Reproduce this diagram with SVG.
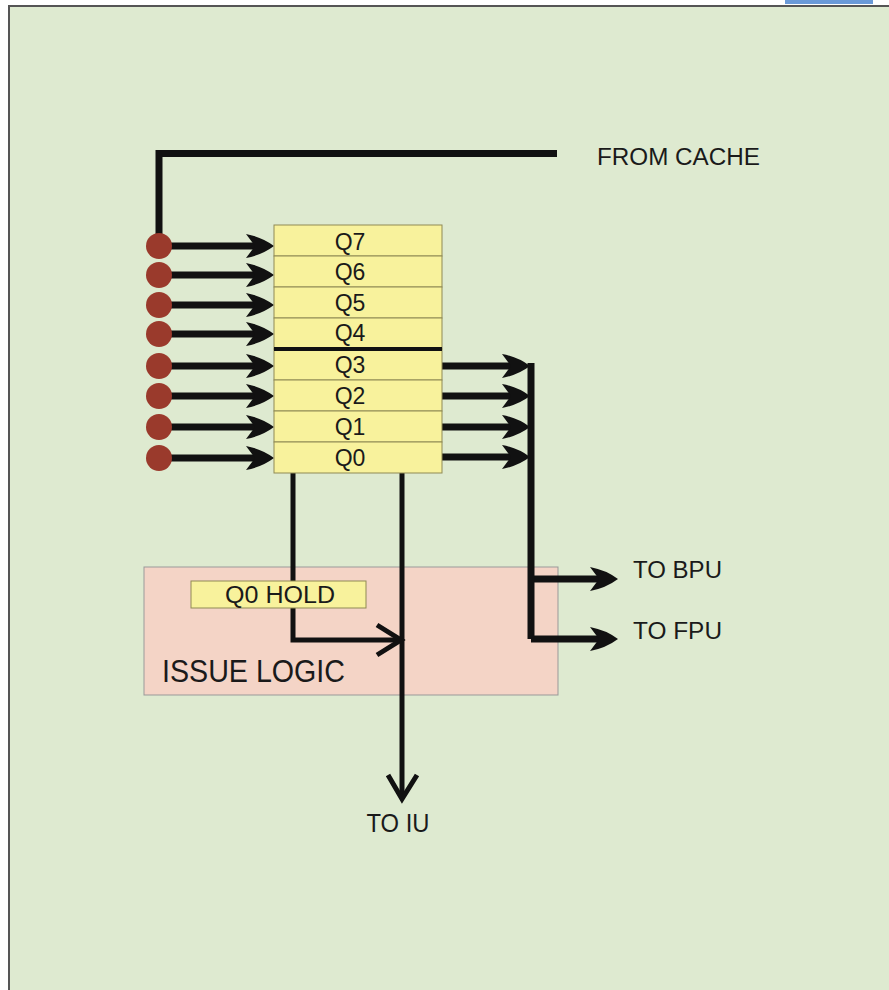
<svg xmlns="http://www.w3.org/2000/svg" width="889" height="990" viewBox="0 0 889 990">
<style>
.lbl{font-family:"Liberation Sans",Arial,sans-serif;fill:#1a1a1a}
.q{font-size:23px;text-anchor:middle}
.row{fill:#f8f29c;stroke:#8f8a55;stroke-width:1}
.wire{fill:none;stroke:#111;stroke-linejoin:miter}
.dot{fill:#9a3a2c}
</style>
<defs>
<marker id="ah" markerUnits="userSpaceOnUse" viewBox="-30 -13 32 26" markerWidth="32" markerHeight="26" refX="-15" refY="0" orient="auto" overflow="visible">
<path d="M0,0 Q-12,-9 -28,-12 L-19,0 L-28,12 Q-12,9 0,0 Z" fill="#111"/>
</marker>
</defs>
<rect x="0" y="0" width="889" height="990" fill="#ffffff"/>
<rect x="9" y="6" width="880" height="984" fill="#deead0"/>
<path d="M9,990 V6 H889" fill="none" stroke="#555" stroke-width="2"/>
<rect x="785" y="0" width="88" height="4" fill="#6a9ad8"/>
<g id="issue-logic">
<rect x="144" y="567" width="414" height="128" fill="#f4d4c6" stroke="#999" stroke-width="1"/>
<text class="lbl" x="162" y="682" font-size="31" textLength="183" lengthAdjust="spacingAndGlyphs">ISSUE LOGIC</text>
</g>
<g id="connectors">
<path class="wire" d="M557,153.5 H159 V246" stroke-width="7"/>
<g stroke-width="7" class="wire" marker-end="url(#ah)">
<path d="M159,246 H259"/>
<path d="M159,275 H259"/>
<path d="M159,305 H259"/>
<path d="M159,334 H259"/>
<path d="M159,366 H259"/>
<path d="M159,396 H259"/>
<path d="M159,427 H259"/>
<path d="M159,458 H259"/>
<path d="M442,366 H515"/>
<path d="M442,396 H515"/>
<path d="M442,427 H515"/>
<path d="M442,457 H515"/>
<path d="M531,579 H603"/>
<path d="M531,639 H603"/>
</g>
<path class="wire" d="M531,363 V639" stroke-width="7"/>
<path class="wire" d="M293,473 V640 H400" stroke-width="5"/>
<path class="wire" d="M377,625 L401,640 L377,655" stroke-width="5"/>
<path class="wire" d="M402,473 V798" stroke-width="5"/>
<path class="wire" d="M388,775 L402,799 L417,775" stroke-width="5"/>
</g>
<g id="dots">
<circle class="dot" cx="159" cy="246" r="13"/>
<circle class="dot" cx="159" cy="275" r="13"/>
<circle class="dot" cx="159" cy="305" r="13"/>
<circle class="dot" cx="159" cy="334" r="13"/>
<circle class="dot" cx="159" cy="366" r="13"/>
<circle class="dot" cx="159" cy="396" r="13"/>
<circle class="dot" cx="159" cy="427" r="13"/>
<circle class="dot" cx="159" cy="458" r="13"/>
</g>
<g id="queue">
<rect class="row" x="274" y="225" width="168" height="31"/>
<rect class="row" x="274" y="256" width="168" height="31"/>
<rect class="row" x="274" y="287" width="168" height="31"/>
<rect class="row" x="274" y="318" width="168" height="31"/>
<rect class="row" x="274" y="349" width="168" height="31"/>
<rect class="row" x="274" y="380" width="168" height="31"/>
<rect class="row" x="274" y="411" width="168" height="31"/>
<rect class="row" x="274" y="442" width="168" height="31"/>
<line x1="274" y1="349" x2="442" y2="349" stroke="#111" stroke-width="4"/>
<text class="lbl q" x="350" y="250">Q7</text>
<text class="lbl q" x="350" y="280">Q6</text>
<text class="lbl q" x="350" y="311">Q5</text>
<text class="lbl q" x="350" y="341">Q4</text>
<text class="lbl q" x="350" y="373">Q3</text>
<text class="lbl q" x="350" y="404">Q2</text>
<text class="lbl q" x="350" y="435">Q1</text>
<text class="lbl q" x="350" y="466">Q0</text>
</g>
<g id="q0-hold">
<rect class="row" x="191" y="581" width="175" height="27"/>
<text class="lbl" x="280" y="603" font-size="23" text-anchor="middle" textLength="110" lengthAdjust="spacingAndGlyphs">Q0 HOLD</text>
</g>
<g id="labels">
<text class="lbl" x="597" y="165" font-size="23" textLength="163" lengthAdjust="spacingAndGlyphs">FROM CACHE</text>
<text class="lbl" x="633" y="578" font-size="23" textLength="89" lengthAdjust="spacingAndGlyphs">TO BPU</text>
<text class="lbl" x="633" y="639" font-size="23" textLength="89" lengthAdjust="spacingAndGlyphs">TO FPU</text>
<text class="lbl" x="398" y="832" font-size="25" text-anchor="middle" textLength="63" lengthAdjust="spacingAndGlyphs">TO IU</text>
</g>
</svg>
